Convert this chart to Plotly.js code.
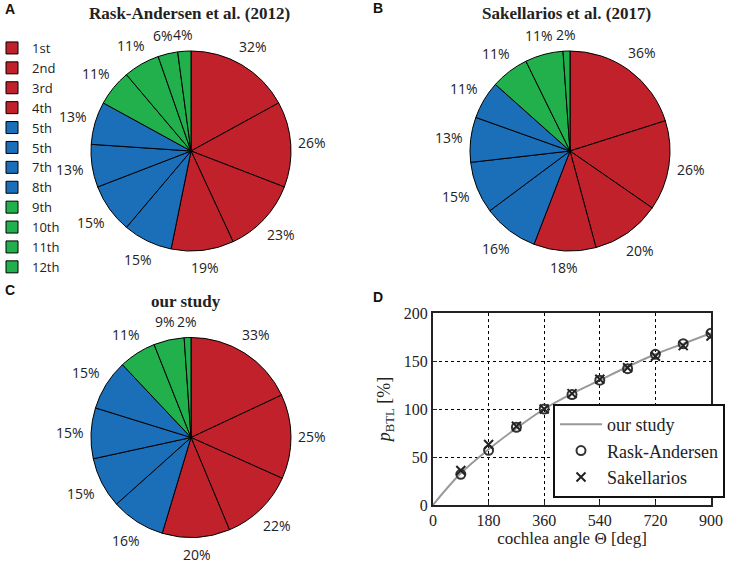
<!DOCTYPE html>
<html>
<head>
<meta charset="utf-8">
<script src="https://cdn.plot.ly/plotly-3.0.1.min.js"></script>
<style>html,body{margin:0;padding:0;background:#fff;}#chart{width:737px;height:564px;}</style>
</head>
<body>
<div id="chart"></div>
<script>
// ---- data ----
var turnLabels = ["1st","2nd","3rd","4th","5th","5th\u200b","7th","8th","9th","10th","11th","12th"];
var raskValues = [32,26,23,19,15,15,13,13,11,11,6,4];
var sakLabels = ["1st","2nd","3rd","4th","5th","5th\u200b","7th","8th","9th","10th","11th"];
var sakValues = [36,26,20,18,16,15,13,11,11,11,2];
var ourLabels = ["1st","2nd","3rd","4th","5th","5th\u200b","7th","8th","9th","10th","11th"];
var ourValues = [33,25,22,20,16,15,15,15,11,9,2];

var curveAngles = [0,90,180,270,360,450,540,630,720,810,900];
var curveOur = [0,33,58,80,100,116,130,144,157,168,179];
var pointAngles = [90,180,270,360,450,540,630,720,810,900];
var pointsRask = [32,57,81,100,115,130,142,157,168,179];
var pointsSak = [36,63,82,100,116,131,143,155,166,176];
var xTicks = [0,180,360,540,720,900];

var RED = "#C1212A", BLUE = "#1A6FB8", GREEN = "#21B04B";
function colorsFor(n){
  var c = [];
  for (var i=0;i<n;i++){ c.push(i<4?RED:(i<8?BLUE:GREEN)); }
  return c;
}
function sakColors(){ return [RED,RED,RED,RED,BLUE,BLUE,BLUE,BLUE,GREEN,GREEN,GREEN]; }

var W=737, H=564;
function dx(a,b){ return [a/W, b/W]; }
function dy(top,bottom){ return [(H-bottom)/H, (H-top)/H]; }

var pies = [
  {labels: turnLabels, values: raskValues, colors: colorsFor(12), cx:191, cy:151, r:100, legend:true},
  {labels: sakLabels, values: sakValues, colors: sakColors(), cx:570, cy:151, r:100, legend:false},
  {labels: ourLabels, values: ourValues, colors: sakColors(), cx:191, cy:437.5, r:100, legend:false}
];

var traces = [];
var labelAnns = [];
pies.forEach(function(p){
  traces.push({
    type:"pie", sort:false, direction:"clockwise", rotation:0,
    labels:p.labels, values:p.values, textinfo:"none", hoverinfo:"skip",
    marker:{colors:p.colors, line:{color:"#000", width:1}},
    domain:{x: dx(p.cx-p.r, p.cx+p.r), y: dy(p.cy-p.r, p.cy+p.r)},
    showlegend:p.legend, legend:"legend"
  });
  // percentage labels placed outside each slice at its mid-angle (derived from the values)
  var total = p.values.reduce(function(a,b){return a+b;},0);
  var cum = 0;
  p.values.forEach(function(v){
    var mid = (cum + v/2)/total*2*Math.PI; cum += v;
    var s = Math.sin(mid), c = Math.cos(mid);
    var R = p.r + 8 + 13*Math.abs(s) + 8*Math.abs(c);
    var x = p.cx + R*s, y = p.cy - R*c;
    labelAnns.push({text: v+"%", x:x/W, y:(H-y)/H, xref:"paper", yref:"paper", showarrow:false,
      xanchor:"center", yanchor:"middle", font:{family:"Open Sans", size:14, color:"#222"}});
  });
});

traces.push(
  {
    type:"scatter", mode:"lines", x: curveAngles, y: curveOur, name:"our study",
    line:{color:"#999", width:2, shape:"spline"}, legend:"legend2",
    xaxis:"x", yaxis:"y", hoverinfo:"skip"
  },
  {
    type:"scatter", mode:"markers", x: pointAngles, y: pointsRask, name:"Rask-Andersen",
    marker:{symbol:"circle-open", size:9, color:"#333", line:{width:2, color:"#333"}},
    legend:"legend2", xaxis:"x", yaxis:"y", hoverinfo:"skip"
  },
  {
    type:"scatter", mode:"markers", x: pointAngles, y: pointsSak, name:"Sakellarios",
    marker:{symbol:"x-thin-open", size:9, color:"#222", line:{width:2, color:"#222"}},
    legend:"legend2", xaxis:"x", yaxis:"y", hoverinfo:"skip"
  }
);

var serif = "Liberation Serif";
var titleFont = {family:serif, size:17, color:"#222"};
var letterFont = {family:"Liberation Sans", size:14, color:"#111"};
function ann(text, x, y, font, xanchor){
  return {text:text, x:x/W, y:(H-y)/H, xref:"paper", yref:"paper", showarrow:false,
    xanchor:xanchor||"center", yanchor:"middle", font:font};
}

var layout = {
  width:W, height:H, margin:{l:0,r:0,t:0,b:0},
  paper_bgcolor:"#fff", plot_bgcolor:"#fff",
  xaxis:{
    domain: dx(433,711), range:[0,900], tickvals:xTicks, ticktext:xTicks.map(String),
    showgrid:true, gridcolor:"#000", griddash:"dot", gridwidth:1,
    showline:true, mirror:true, linecolor:"#222", linewidth:2,
    ticks:"inside", ticklen:4, tickcolor:"#222", zeroline:false,
    tickfont:{family:serif, size:16, color:"#222"},
    title:{text:"cochlea angle Θ [deg]", font:{family:serif, size:17, color:"#222"}, standoff:0},
    anchor:"y", fixedrange:true
  },
  yaxis:{
    domain: dy(313,505), range:[0,200], dtick:50,
    showgrid:true, gridcolor:"#000", griddash:"dot", gridwidth:1,
    showline:true, mirror:true, linecolor:"#222", linewidth:2,
    ticks:"inside", ticklen:4, tickcolor:"#222", zeroline:false,
    tickfont:{family:serif, size:16, color:"#222"},
    title:{text:"<i>p</i><sub>BTL</sub> [%]", font:{family:serif, size:18, color:"#222"}, standoff:8},
    anchor:"x", fixedrange:true
  },
  legend:{
    x: 0, y:(H-33)/H, xanchor:"left", yanchor:"top", indentation:-8,
    bgcolor:"rgba(0,0,0,0)", borderwidth:0,
    font:{family:"Open Sans", size:13, color:"#222"},
    traceorder:"normal", itemclick:false
  },
  legend2:{
    x: 553/W, y:(H-404)/H, xanchor:"left", yanchor:"top",
    bgcolor:"#fff", bordercolor:"#111", borderwidth:2, itemwidth:42,
    font:{family:serif, size:18, color:"#222"},
    traceorder:"normal", itemclick:false
  },
  annotations:[
    ann("<b>Rask-Andersen et al. (2012)</b>", 189, 13, titleFont),
    ann("<b>Sakellarios et al. (2017)</b>", 566, 13, titleFont),
    ann("<b>our study</b>", 186, 302, titleFont),
    ann("<b>A</b>", 3, 9, letterFont, "left"),
    ann("<b>B</b>", 371, 8, letterFont, "left"),
    ann("<b>C</b>", 3, 290, letterFont, "left"),
    ann("<b>D</b>", 371, 297, letterFont, "left")
  ].concat(labelAnns)
};

Plotly.newPlot("chart", traces, layout, {displayModeBar:false, staticPlot:true});
</script>
</body>
</html>
